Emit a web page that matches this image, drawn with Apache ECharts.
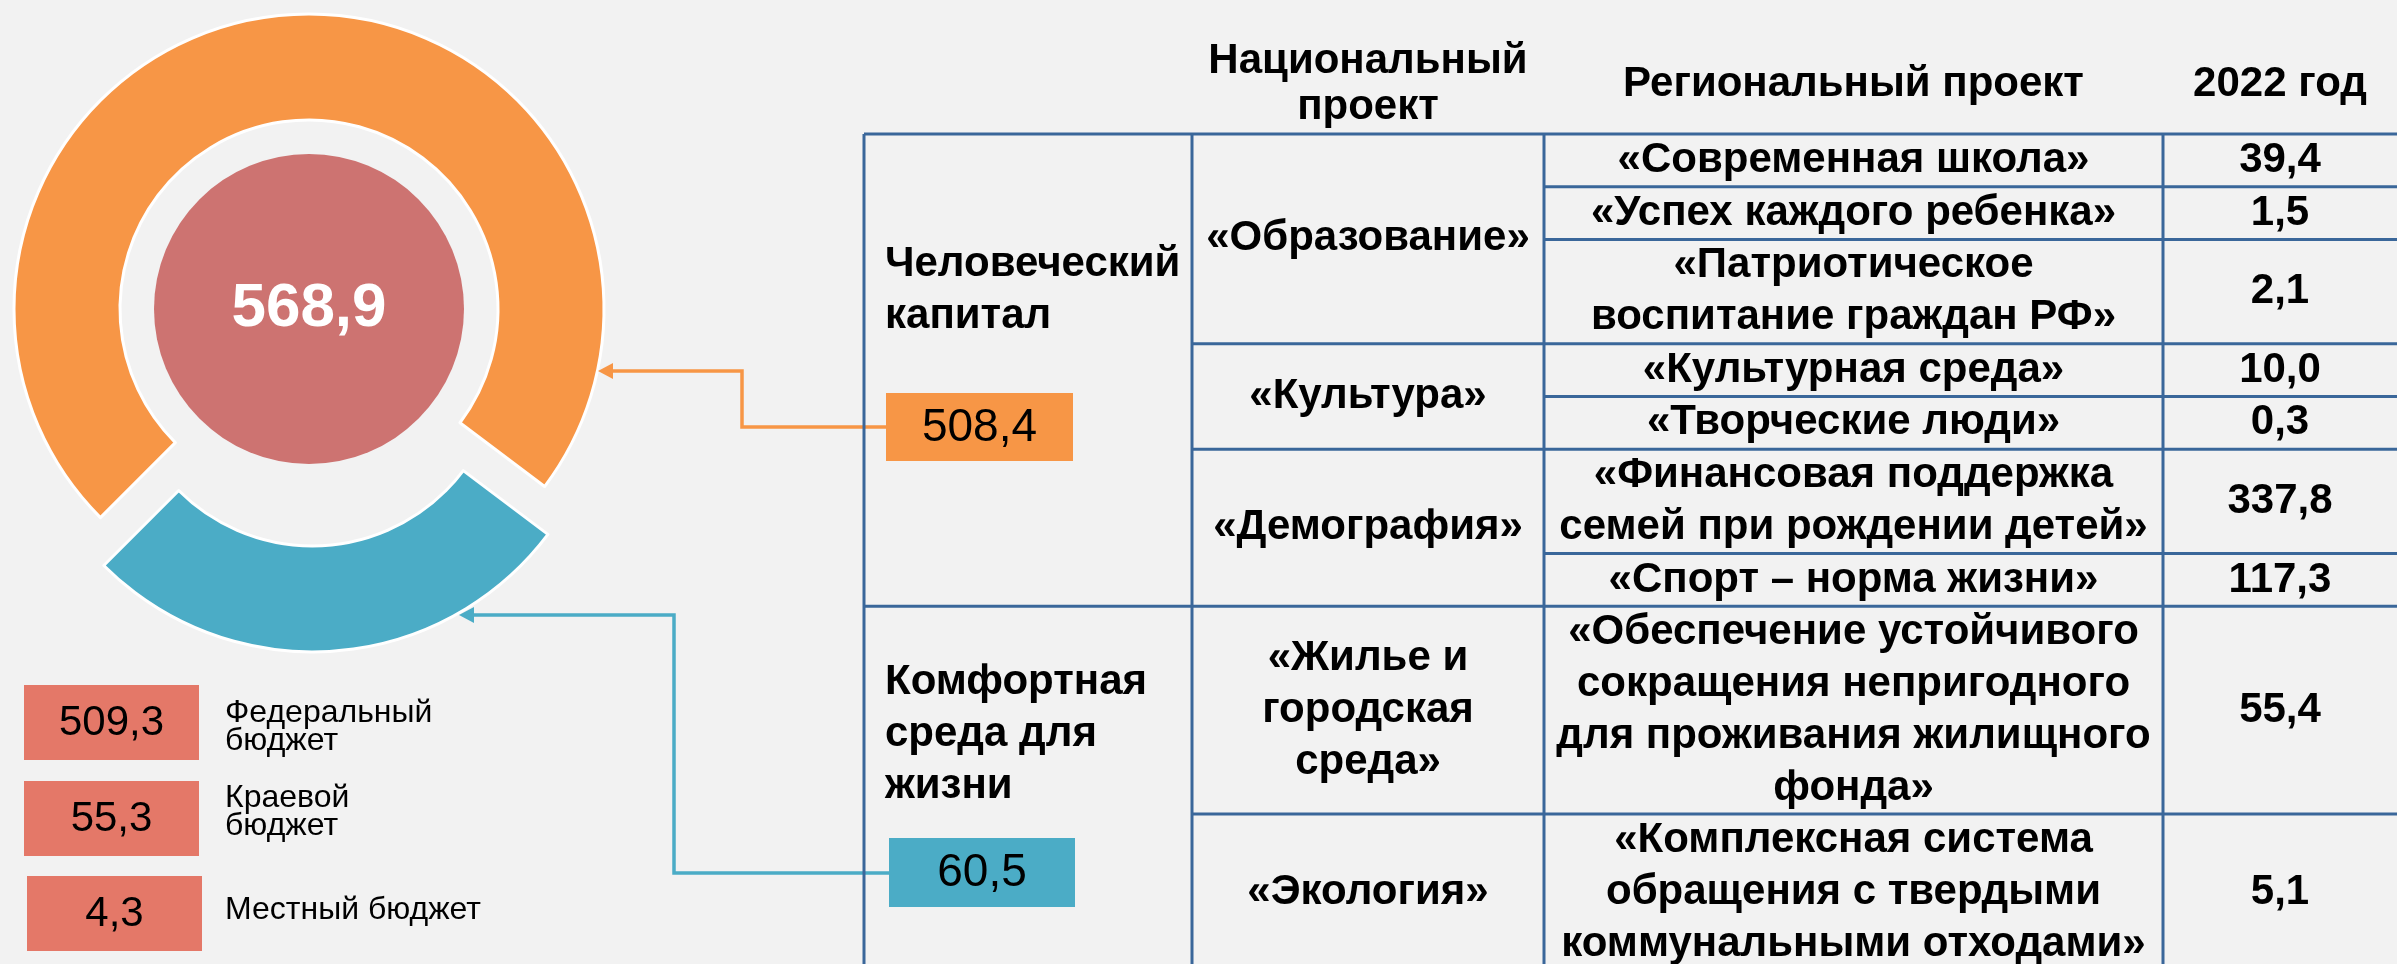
<!DOCTYPE html>
<html><head><meta charset="utf-8">
<script src="https://cdn.jsdelivr.net/npm/echarts@6/dist/echarts.min.js"></script>
<style>html,body{margin:0;padding:0;background:#F2F2F2;} #c{width:2397px;height:964px;}</style>
</head><body><div id="c"></div>
<script>
// ---------- data ----------
const pillarNames = ['Человеческий\nкапитал', 'Комфортная\nсреда для\nжизни'];
const pillarValues = [508.4, 60.5];
const totalValue = 568.9;
const budgetNames = ['Федеральный\nбюджет', 'Краевой\nбюджет', 'Местный бюджет'];
const budgetValues = [509.3, 55.3, 4.3];
const headerLabels = ['Национальный\nпроект', 'Региональный проект', '2022 год'];
const nationalProjects = ['«Образование»', '«Культура»', '«Демография»', '«Жилье и\nгородская\nсреда»', '«Экология»'];
const nationalPillar = [0, 0, 0, 1, 1];
const regionalProjects = [
  '«Современная школа»',
  '«Успех каждого ребенка»',
  '«Патриотическое\nвоспитание граждан РФ»',
  '«Культурная среда»',
  '«Творческие люди»',
  '«Финансовая поддержка\nсемей при рождении детей»',
  '«Спорт – норма жизни»',
  '«Обеспечение устойчивого\nсокращения непригодного\nдля проживания жилищного\nфонда»',
  '«Комплексная система\nобращения с твердыми\nкоммунальными отходами»'
];
const regionalNational = [0, 0, 0, 1, 1, 2, 2, 3, 4];
const regionalValues = [39.4, 1.5, 2.1, 10.0, 0.3, 337.8, 117.3, 55.4, 5.1];

// ---------- styles / layout ----------
const FONT = '"Liberation Sans", Arial, sans-serif';
const ORANGE = '#F79646', TEAL = '#4BACC6', RED = '#CD7371', SALMON = '#E47868', LINE = '#3A679A';
const colX = [864, 1192, 1544, 2163, 2397];
const tableTop = 134, lineStep = 51.7, tableBottom = 1000;
const pillarLabelY = [290, 734];
const pillarBox = [[886, 393, 187, 68], [889, 838, 186, 69]];
const budgetBox = [[24, 685, 175, 75], [24, 781, 175, 75], [27, 876, 175, 75]];
const budgetLabelY = [727, 812, 910];
const fmt = v => v.toFixed(1).replace('.', ',');

function txt(x, y, text, size, bold, align, lh, color) {
  return { type: 'text', x: x, y: y, z: 10, silent: true,
    style: { text: text, fill: color || '#000', fontSize: size, fontWeight: bold ? 'bold' : 'normal',
      fontFamily: FONT, align: align || 'center', verticalAlign: 'middle',
      textAlign: align || 'center', textVerticalAlign: 'middle', lineHeight: lh || size * 1.2 } };
}
function ln(x1, y1, x2, y2, color, w) {
  return { type: 'line', z: 5, silent: true, shape: { x1, y1, x2, y2 }, style: { stroke: color, lineWidth: w } };
}

const g = [];
// row boundaries
const ys = [tableTop];
regionalProjects.forEach((t, i) => { ys.push(ys[i] + 1 + lineStep * t.split('\n').length); });

// headers
g.push(txt((colX[1] + colX[2]) / 2, 84, headerLabels[0], 42, true, 'center', 46));
g.push(txt((colX[2] + colX[3]) / 2, 84, headerLabels[1], 42, true, 'center', 46));
g.push(txt((colX[3] + colX[4]) / 2, 84, headerLabels[2], 42, true, 'center', 46));

// horizontal lines
g.push(ln(colX[0], tableTop, colX[4], tableTop, LINE, 3));
for (let i = 1; i < regionalProjects.length; i++) {
  let x0 = colX[2];
  if (regionalNational[i] !== regionalNational[i - 1]) {
    x0 = nationalPillar[regionalNational[i]] !== nationalPillar[regionalNational[i - 1]] ? colX[0] : colX[1];
  }
  g.push(ln(x0, ys[i], colX[4], ys[i], LINE, 3));
}
// vertical lines
for (let k = 0; k < 4; k++) g.push(ln(colX[k], tableTop, colX[k], tableBottom, LINE, 3));

// regional cells and values
regionalProjects.forEach((t, i) => {
  const yc = (ys[i] + ys[i + 1]) / 2;
  g.push(txt((colX[2] + colX[3]) / 2, yc, t, 42, true, 'center', 52));
  g.push(txt((colX[3] + colX[4]) / 2, yc, fmt(regionalValues[i]), 42, true, 'center', 52));
});
// national cells
nationalProjects.forEach((t, n) => {
  const idx = regionalNational.map((v, i) => v === n ? i : -1).filter(i => i >= 0);
  const y0 = ys[idx[0]], y1 = ys[idx[idx.length - 1] + 1];
  g.push(txt((colX[1] + colX[2]) / 2, (y0 + y1) / 2, t, 42, true, 'center', 52));
});
// pillar labels and value boxes
const pColors = [ORANGE, TEAL];
pillarNames.forEach((t, p) => {
  g.push(txt(colX[0] + 21, pillarLabelY[p], t, 42, true, 'left', 52));
  const b = pillarBox[p];
  g.push({ type: 'rect', z: 6, silent: true, shape: { x: b[0], y: b[1], width: b[2], height: b[3] }, style: { fill: pColors[p] } });
  g.push(txt(b[0] + b[2] / 2, b[1] + b[3] / 2 + 1, fmt(pillarValues[p]), 46, false, 'center', 50));
});
// connectors
function connector(points, tip, color) {
  const last = points[points.length - 1];
  g.push({ type: 'polyline', z: 4, silent: true, shape: { points: points }, style: { stroke: color, lineWidth: 3.5, fill: null } });
  g.push({ type: 'polygon', z: 4, silent: true, shape: { points: [[tip[0], tip[1]], [last[0], last[1] - 8], [last[0], last[1] + 8]] }, style: { fill: color } });
}
connector([[886, 427], [742, 427], [742, 371], [613, 371]], [598, 371], ORANGE);
connector([[889, 873], [674, 873], [674, 615], [474, 615]], [459, 615], TEAL);

// budget legend
budgetNames.forEach((t, i) => {
  const b = budgetBox[i];
  g.push({ type: 'rect', z: 6, silent: true, shape: { x: b[0], y: b[1], width: b[2], height: b[3] }, style: { fill: SALMON } });
  g.push(txt(b[0] + b[2] / 2, b[1] + b[3] / 2 + 1, fmt(budgetValues[i]), 42, false, 'center', 46));
  g.push(txt(225, budgetLabelY[i], t, 32, false, 'left', 28));
});

const chart = echarts.init(document.getElementById('c'), null, { renderer: 'canvas' });
chart.setOption({
  backgroundColor: '#F2F2F2',
  animation: false,
  series: [
    {
      type: 'pie', center: [309, 309], radius: [189, 295], startAngle: 225, clockwise: true,
      minAngle: 98, selectedMode: 'single', selectedOffset: 48,
      label: { show: false }, labelLine: { show: false },
      itemStyle: { borderColor: '#fff', borderWidth: 3 },
      emphasis: { disabled: true },
      select: { itemStyle: { borderColor: '#fff', borderWidth: 3 } },
      data: pillarValues.map((v, i) => ({ value: v, name: pillarNames[i], selected: i === 1,
        itemStyle: { color: pColors[i] }, select: { itemStyle: { color: pColors[i] } } }))
    },
    {
      type: 'pie', center: [309, 309], radius: [0, 155],
      emphasis: { disabled: true },
      labelLine: { show: false },
      label: { show: true, position: 'center', formatter: () => fmt(totalValue), color: '#fff',
        fontSize: 62, fontWeight: 'bold', fontFamily: FONT },
      data: [{ value: totalValue, name: 'Всего', itemStyle: { color: RED } }]
    }
  ],
  graphic: g
});
</script></body></html>
